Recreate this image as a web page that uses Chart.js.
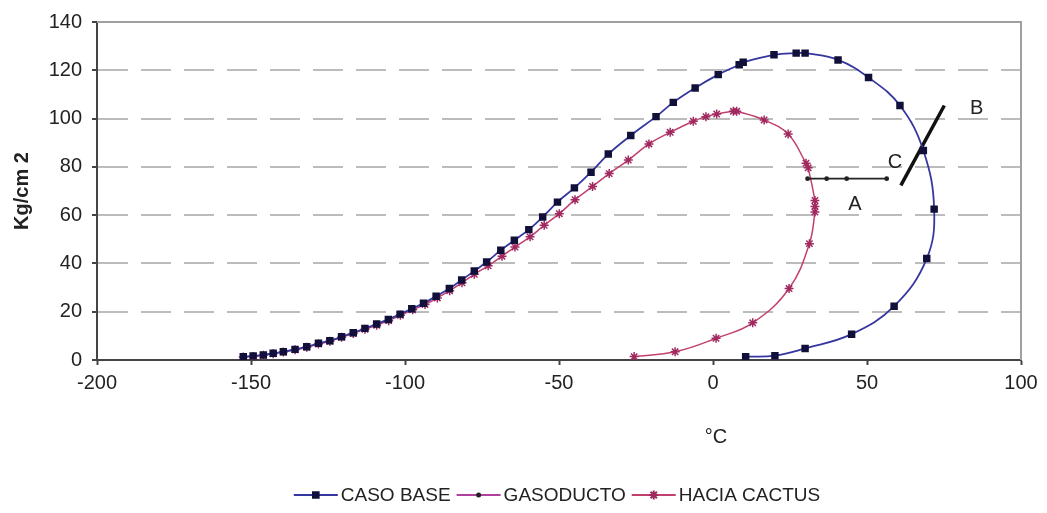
<!DOCTYPE html>
<html>
<head>
<meta charset="utf-8">
<script src="https://cdn.jsdelivr.net/npm/chart.js@4"></script>
<style>
  body { margin: 0; background: #fff; }
</style>
</head>
<body>
<canvas id="envChart" width="1047" height="513"></canvas>
<script>
// temperatura (°C) y presion (Kg/cm2)
const casoBaseT = [-152.5, -149.3, -146, -142.8, -139.5, -135.7, -131.9, -128.1, -124.4, -120.6,
  -116.8, -113, -109.2, -105.4, -101.6, -97.8, -94, -89.9, -85.6, -81.6, -77.5, -73.5, -68.9,
  -64.5, -59.8, -55.3, -50.5, -45, -39.6, -34, -26.7, -18.5, -12.9, -5.8, 1.7, 8.5, 9.8, 19.8,
  27, 29.9, 40.6, 50.5, 60.7, 68.3, 71.8, 69.4, 58.8, 45, 29.9, 20.1, 10.6];
const casoBaseP = [1.4, 1.7, 2.1, 2.8, 3.4, 4.4, 5.5, 6.9, 8, 9.6, 11.3, 13.1, 14.9, 16.8, 19,
  21.2, 23.5, 26.4, 29.6, 33.1, 36.9, 40.6, 45.5, 49.6, 54, 59.2, 65.4, 71.3, 77.8, 85.3, 93,
  100.8, 106.7, 112.7, 118.2, 122.3, 123.3, 126.4, 127.1, 127.1, 124.3, 117, 105.4, 86.8, 62.5,
  42, 22.3, 10.7, 4.8, 1.8, 1.4];

const gasoductoT = [30.7, 36.9, 43.4, 56.4];
const gasoductoP = [75.1, 75.1, 75.1, 75.1];

const cactusT = [-152.5, -149.3, -146, -142.8, -139.5, -135.7, -131.9, -128.1, -124.4, -120.6,
  -116.8, -113, -109.2, -105.3, -101.5, -97.5, -93.5, -89.5, -85.5, -81.5, -77.5, -73, -68.5,
  -64.3, -59.4, -54.8, -49.9, -44.8, -39.1, -33.7, -27.5, -20.8, -13.9, -6.4, -2.3, 1.2, 6.6,
  7.7, 16.6, 24.4, 30.2, 30.9, 33.1, 33.1, 33.1, 31.3, 24.7, 12.9, 1, -12.3, -25.6];
const cactusP = [1.2, 1.5, 2, 2.6, 3.3, 4.2, 5.3, 6.6, 7.8, 9.4, 11, 12.7, 14.4, 16.3, 18.5,
  20.8, 23, 25.7, 28.7, 32, 35.5, 39, 43, 46.8, 51, 55.8, 60.6, 66.4, 71.9, 77.2, 82.8, 89.5,
  94.3, 98.9, 100.8, 101.9, 103, 103, 99.4, 93.6, 81.5, 79.6, 66.1, 63.6, 61.3, 48.2, 29.6,
  15.4, 9, 3.4, 1.4];

// linea B-C
const lineaBCT = [61, 75.1];
const lineaBCP = [72.3, 105.4];

const etiquetas = ["A", "B", "C"];
const etiquetasT = [46.1, 85.6, 59.1];
const etiquetasP = [64.5, 104, 82];

const series = ["CASO BASE", "GASODUCTO", "HACIA CACTUS"];
const coloresLeyenda = ["#3636a0", "#b040a0", "#c2406e"];

const FONT = "'Liberation Sans', Arial, sans-serif";

function puntos(xs, ys) {
  return xs.map((x, i) => ({ x: x, y: ys[i] }));
}

const marco = {
  id: "marco",
  beforeDatasetsDraw(chart) {
    const { ctx, chartArea: a } = chart;
    ctx.save();
    ctx.strokeStyle = "#a0a0a0";
    ctx.lineWidth = 2;
    ctx.beginPath();
    ctx.moveTo(a.left, a.top);
    ctx.lineTo(a.right, a.top);
    ctx.lineTo(a.right, a.bottom);
    ctx.stroke();
    ctx.restore();
  },
  afterDatasetsDraw(chart) {
    const { ctx, scales } = chart;
    ctx.save();
    ctx.fillStyle = "#222";
    ctx.font = "20px " + FONT;
    ctx.textAlign = "center";
    ctx.textBaseline = "middle";
    etiquetas.forEach((t, i) => {
      ctx.fillText(t, scales.x.getPixelForValue(etiquetasT[i]), scales.y.getPixelForValue(etiquetasP[i]));
    });
    // titulo del eje x (en el original queda bajo el 0)
    ctx.fillText("°C", scales.x.getPixelForValue(0) + 3, 437);
    ctx.restore();
  },
  afterDraw(chart) {
    // leyenda estilo Excel: linea con marcador al centro
    const ctx = chart.ctx;
    const sets = chart.data.datasets;
    const lineW = 44, gap = 3, sep = 6, y = 495;
    ctx.save();
    ctx.font = "19px " + FONT;
    ctx.textBaseline = "middle";
    let total = 0;
    series.forEach((s) => { total += lineW + gap + ctx.measureText(s).width + sep; });
    total -= sep;
    let x = 557 - total / 2;
    series.forEach((s, i) => {
      const ds = sets[i];
      ctx.strokeStyle = coloresLeyenda[i];
      ctx.lineWidth = 2;
      ctx.beginPath();
      ctx.moveTo(x, y);
      ctx.lineTo(x + lineW, y);
      ctx.stroke();
      ctx.fillStyle = ds.pointBackgroundColor;
      ctx.strokeStyle = ds.pointBorderColor;
      Chart.helpers.drawPoint(ctx, {
        pointStyle: ds.pointStyle,
        radius: ds.pointRadius,
        borderWidth: ds.pointBorderWidth || 1,
        rotation: 0
      }, x + lineW / 2, y);
      ctx.fillStyle = "#222";
      ctx.fillText(s, x + lineW + gap, y + 1);
      x += lineW + gap + ctx.measureText(s).width + sep;
    });
    ctx.restore();
  }
};

function loadEnvolvente() {
  const canvas = document.getElementById("envChart");
  if (!canvas) return;

  new Chart(canvas, {
    type: "scatter",
    data: {
      datasets: [{
        label: series[0],
        data: puntos(casoBaseT, casoBaseP),
        showLine: true,
        tension: 0.4,
        borderColor: "#3636a0",
        borderWidth: 1.8,
        pointStyle: "rect",
        pointRadius: 4,
        pointBackgroundColor: "#10103a",
        pointBorderColor: "#10103a"
      }, {
        label: series[1],
        data: puntos(gasoductoT, gasoductoP),
        showLine: true,
        borderColor: "#222",
        borderWidth: 1.8,
        pointStyle: "circle",
        pointRadius: 1.5,
        pointBackgroundColor: "#222",
        pointBorderColor: "#222"
      }, {
        label: series[2],
        data: puntos(cactusT, cactusP),
        showLine: true,
        tension: 0.4,
        borderColor: "#c2406e",
        borderWidth: 1.5,
        pointStyle: "star",
        pointRadius: 4.5,
        pointBorderWidth: 1.5,
        pointBackgroundColor: "#a02a60",
        pointBorderColor: "#a02a60"
      }, {
        label: "",
        data: puntos(lineaBCT, lineaBCP),
        showLine: true,
        borderColor: "#111",
        borderWidth: 3.5,
        pointRadius: 0
      }]
    },
    options: {
      responsive: false,
      animation: false,
      layout: { padding: { top: 21, right: 26, left: 0, bottom: 40 } },
      plugins: {
        tooltip: { enabled: false },
        legend: { display: false }
      },
      scales: {
        x: {
          type: "linear",
          min: -200,
          max: 100,
          afterFit: (s) => { s.height = 113; },
          ticks: {
            stepSize: 50,
            padding: 6,
            color: "#222",
            font: { family: FONT, size: 20 }
          },
          grid: {
            drawOnChartArea: false,
            drawTicks: true,
            tickLength: 5,
            tickColor: "#444",
            tickWidth: 2
          },
          border: { color: "#444", width: 2 },
          title: { display: false }
        },
        y: {
          type: "linear",
          min: 0,
          max: 140,
          afterFit: (s) => { s.width = 97; },
          ticks: {
            stepSize: 20,
            padding: 10,
            color: "#222",
            font: { family: FONT, size: 20 }
          },
          grid: {
            color: (c) => (c.tick && (c.tick.value === 0 || c.tick.value === 140)) ? "rgba(0,0,0,0)" : "#bcbcbc",
            lineWidth: 2,
            tickLength: 5,
            tickColor: "#444",
            tickWidth: 2
          },
          border: { color: "#444", width: 2, dash: [30, 13] },
          title: {
            display: true,
            text: "Kg/cm 2",
            color: "#222",
            font: { family: FONT, size: 20, weight: "bold" },
            padding: { top: 10, bottom: 0 }
          }
        }
      }
    },
    plugins: [marco]
  });
}

loadEnvolvente();
</script>
</body>
</html>
